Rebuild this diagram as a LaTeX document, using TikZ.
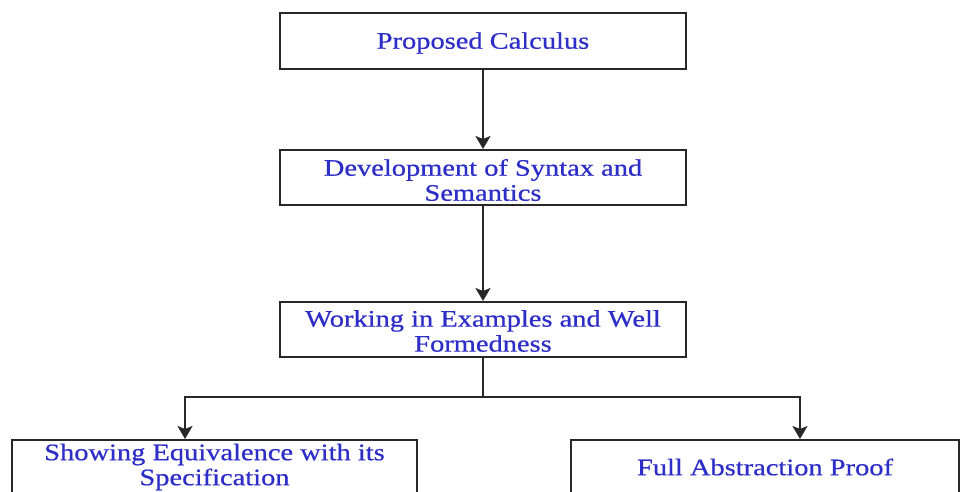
\documentclass[tikz,border=0pt]{standalone}
\usepackage{fontspec}
\usetikzlibrary{arrows.meta}
\newfontfamily\boxfont[FakeStretch=1.2,FakeBold=0.6]{Liberation Serif}
\definecolor{txtblue}{RGB}{45,45,200}
\definecolor{edge}{RGB}{40,40,40}
\begin{document}
\begin{tikzpicture}[x=1pt,y=-1pt,
  box/.style={draw=edge,line width=2pt,fill=white,inner sep=0pt},
  txt/.style={text=txtblue,align=center,font=\boxfont\fontsize{23.7}{25}\selectfont,inner sep=0pt},
  arr/.style={draw=edge,line width=2pt,-{Stealth[length=13pt,width=15pt,inset=3pt]}},
  ln/.style={draw=edge,line width=2pt}]
\clip (0,0) rectangle (963,491);
\useasboundingbox (0,0) rectangle (963,491);
\fill[white] (0,0) rectangle (963,491);
% boxes
\node[box,minimum width=406pt,minimum height=56pt] (b1) at (483,41) {};
\node[txt] (t1) at (483,43) {Proposed Calculus};
\node[box,minimum width=406pt,minimum height=55pt] (b2) at (483,177.5) {};
\node[txt] (t2) at (483,180) {Development of Syntax and\\Semantics};
\node[box,minimum width=406pt,minimum height=55pt] (b3) at (483,329.5) {};
\node[txt] (t3) at (483,331) {Working in Examples and Well\\Formedness};
\node[box,minimum width=405pt,minimum height=80pt,anchor=north] (b4) at (214.5,439) {};
\node[txt] (t4) at (214.5,467) {Showing Equivalence with its\\Specification};
\node[box,minimum width=388pt,minimum height=80pt,anchor=north] (b5) at (765,439) {};
\node[txt] (t5) at (765,467) {Full Abstraction Proof};
% connectors
\coordinate (j) at (483,397);
\coordinate (e4) at (185,439);
\coordinate (e5) at (800,439);
\draw[arr] (b1.south) -- (b2.north);
\draw[arr] (b2.south) -- (b3.north);
\draw[ln] (b3.south) -- (j);
\draw[arr] (j) -| (e4);
\draw[arr] (j) -| (e5);
\end{tikzpicture}
\end{document}
